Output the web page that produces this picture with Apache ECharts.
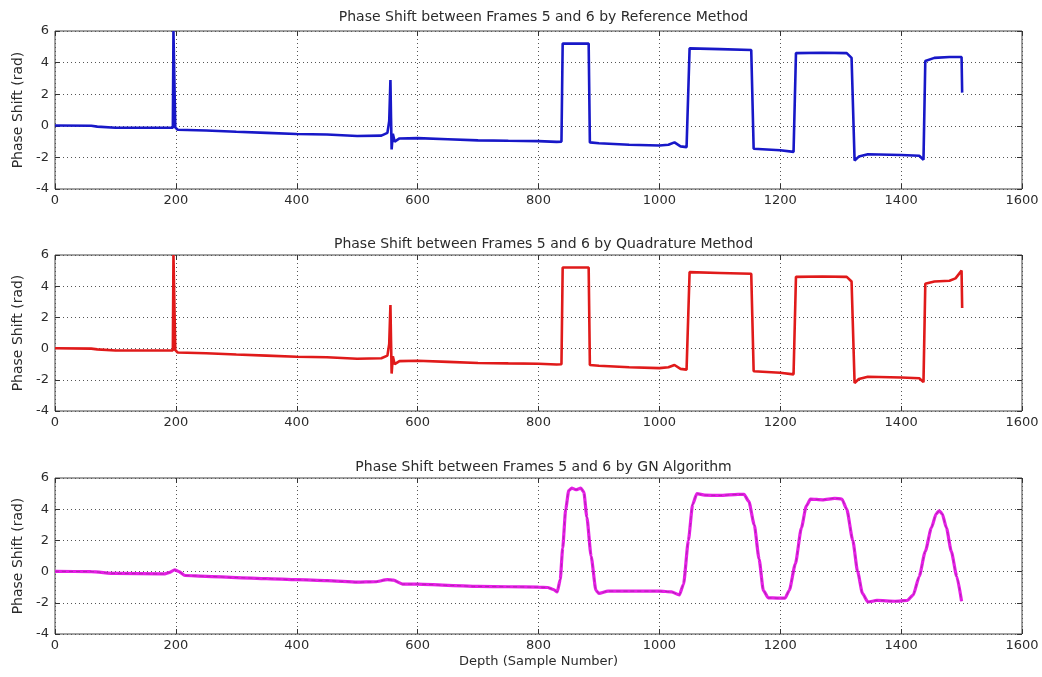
<!DOCTYPE html>
<html>
<head>
<meta charset="utf-8">
<script src="https://cdn.jsdelivr.net/npm/echarts@6/dist/echarts.min.js"></script>
<style>
  html, body { margin: 0; padding: 0; background: #fff; }
  #chart { width: 1042px; height: 677px; }
</style>
</head>
<body>
<div id="chart"></div>
<script>
// Phase shift (rad) between frames 5 and 6 along depth, three estimation methods.
const panelTitles = [
  'Phase Shift between Frames 5 and 6 by Reference Method',
  'Phase Shift between Frames 5 and 6 by Quadrature Method',
  'Phase Shift between Frames 5 and 6 by GN Algorithm'
];
const yAxisTitle = 'Phase Shift (rad)';
const xAxisTitle = 'Depth (Sample Number)';
const xTicks = [0, 200, 400, 600, 800, 1000, 1200, 1400, 1600];
const yTicks = [-4, -2, 0, 2, 4, 6];

// Reference method
const refDepth = [0, 60, 70, 100, 195, 196, 197, 198, 199, 203, 250, 300, 350, 400, 450, 500, 540, 550, 553, 555, 556, 557, 559, 562, 570, 600, 650, 700, 750, 800, 830, 838, 840, 883, 885, 900, 950, 1000, 1015, 1025, 1035, 1045, 1048, 1050, 1100, 1152, 1156, 1200, 1222, 1226, 1270, 1310, 1318, 1323, 1330, 1345, 1400, 1430, 1437, 1440, 1455, 1480, 1500, 1501];
const refPhase = [0.02, 0.0, -0.05, -0.12, -0.12, 6.0, 6.0, 6.0, -0.1, -0.25, -0.3, -0.38, -0.45, -0.52, -0.55, -0.65, -0.62, -0.45, 0.3, 2.9, 0.5, -1.5, -0.5, -1.0, -0.8, -0.78, -0.85, -0.92, -0.95, -0.97, -1.02, -1.0, 5.2, 5.2, -1.05, -1.1, -1.2, -1.25, -1.2, -1.05, -1.3, -1.35, -1.3, 4.9, 4.85, 4.8, -1.45, -1.55, -1.65, 4.6, 4.62, 4.6, 4.3, -2.2, -1.95, -1.8, -1.85, -1.9, -2.15, 4.1, 4.3, 4.35, 4.35, 2.1];

// Quadrature method
const quadDepth = [0, 60, 70, 100, 195, 196, 197, 198, 199, 203, 250, 300, 350, 400, 450, 500, 540, 550, 553, 555, 556, 557, 559, 562, 570, 600, 650, 700, 750, 800, 830, 838, 840, 883, 885, 900, 950, 1000, 1015, 1025, 1035, 1045, 1048, 1050, 1100, 1152, 1156, 1200, 1222, 1226, 1270, 1310, 1318, 1323, 1330, 1345, 1400, 1430, 1437, 1440, 1455, 1480, 1490, 1500, 1501];
const quadPhase = [0.02, 0.0, -0.05, -0.12, -0.12, 6.0, 6.0, 6.0, -0.1, -0.25, -0.3, -0.38, -0.45, -0.52, -0.55, -0.65, -0.62, -0.45, 0.3, 2.8, 0.5, -1.6, -0.5, -1.0, -0.8, -0.78, -0.85, -0.92, -0.95, -0.97, -1.02, -1.0, 5.2, 5.2, -1.05, -1.1, -1.2, -1.25, -1.2, -1.05, -1.3, -1.35, -1.3, 4.9, 4.85, 4.8, -1.45, -1.55, -1.65, 4.6, 4.62, 4.6, 4.3, -2.2, -1.95, -1.8, -1.85, -1.9, -2.15, 4.15, 4.3, 4.35, 4.5, 5.0, 2.6];

// GN algorithm
const gnDepth = [0, 60, 100, 180, 190, 198, 205, 215, 250, 300, 350, 400, 450, 500, 530, 550, 560, 575, 600, 650, 700, 750, 800, 815, 825, 831, 836, 840, 845, 850, 855, 862, 870, 875, 880, 887, 895, 900, 915, 950, 1000, 1020, 1033, 1040, 1048, 1055, 1062, 1075, 1100, 1130, 1140, 1148, 1157, 1165, 1172, 1180, 1195, 1208, 1215, 1225, 1235, 1243, 1250, 1270, 1290, 1302, 1310, 1320, 1328, 1336, 1345, 1360, 1390, 1410, 1420, 1430, 1440, 1450, 1458, 1463, 1468, 1475, 1483, 1492, 1500];
const gnPhase = [0.02, 0.0, -0.12, -0.15, -0.05, 0.12, 0.0, -0.25, -0.3, -0.38, -0.45, -0.52, -0.58, -0.68, -0.65, -0.52, -0.55, -0.8, -0.8, -0.88, -0.95, -0.97, -1.0, -1.02, -1.15, -1.3, -0.5, 1.5, 4.0, 5.2, 5.35, 5.25, 5.35, 5.1, 3.5, 1.0, -1.2, -1.4, -1.25, -1.25, -1.25, -1.3, -1.5, -0.8, 2.0, 4.3, 5.0, 4.9, 4.88, 4.95, 4.95, 4.5, 3.0, 0.8, -1.2, -1.68, -1.7, -1.7, -1.2, 0.5, 2.8, 4.2, 4.65, 4.6, 4.7, 4.65, 4.0, 2.0, 0.0, -1.4, -1.95, -1.85, -1.9, -1.85, -1.5, -0.3, 1.3, 2.8, 3.7, 3.9, 3.7, 2.8, 1.3, -0.3, -1.9];

const pairs = (xs, ys) => xs.map((x, i) => [x, ys[i]]);

const textColor = '#2b2b2b';
const fontFamily = 'DejaVu Sans, Arial, sans-serif';
const panels = [
  { top: 31, height: 158, titleTop: 5 },
  { top: 255, height: 156, titleTop: 232 },
  { top: 478, height: 156, titleTop: 455 }
];
const gridLeft = 55, gridRight = 20;
const centerX = gridLeft + (1042 - gridLeft - gridRight) / 2;

const grid = [], title = [], xAxis = [], yAxis = [];
const dotted = { color: '#555', width: 1, type: [1, 3] };
const tick = { inside: true, length: 5, lineStyle: { color: '#333' } };

panels.forEach((p, i) => {
  grid.push({ left: gridLeft, right: gridRight, top: p.top, height: p.height,
    show: true, borderColor: '#444', borderWidth: 1, backgroundColor: '#fff' });
  title.push({ text: panelTitles[i], left: centerX, top: p.titleTop, textAlign: 'center',
    textStyle: { fontSize: 14, fontWeight: 'normal', color: textColor, fontFamily } });
  // bottom / left axes carry the labels and the dotted grid
  xAxis.push({ type: 'value', gridIndex: i, min: xTicks[0], max: xTicks[xTicks.length - 1], interval: 200,
    axisLine: { show: false, onZero: false }, axisTick: tick,
    axisLabel: { color: textColor, fontSize: 13, fontFamily, margin: 5, formatter: v => String(v) },
    splitLine: { show: true, lineStyle: dotted },
    name: i === 2 ? xAxisTitle : '', nameLocation: 'middle', nameGap: 21,
    nameTextStyle: { color: textColor, fontSize: 13, fontFamily } });
  yAxis.push({ type: 'value', gridIndex: i, min: yTicks[0], max: yTicks[yTicks.length - 1], interval: 2,
    axisLine: { show: false, onZero: false }, axisTick: tick,
    axisLabel: { color: textColor, fontSize: 13, fontFamily, margin: 6, formatter: v => String(v) },
    splitLine: { show: true, lineStyle: dotted },
    name: yAxisTitle, nameLocation: 'middle', nameRotate: 90, nameGap: 30,
    nameTextStyle: { color: textColor, fontSize: 14, fontFamily } });
});
// top / right axes: tick marks only
panels.forEach((p, i) => {
  xAxis.push({ type: 'value', gridIndex: i, position: 'top', min: xTicks[0], max: xTicks[xTicks.length - 1], interval: 200,
    axisLine: { show: false, onZero: false }, axisTick: tick,
    axisLabel: { show: false }, splitLine: { show: false } });
  yAxis.push({ type: 'value', gridIndex: i, position: 'right', min: yTicks[0], max: yTicks[yTicks.length - 1], interval: 2,
    axisLine: { show: false, onZero: false }, axisTick: tick,
    axisLabel: { show: false }, splitLine: { show: false } });
});

const lineSeries = (data, idx, color, width, extra) => Object.assign({
  type: 'line', xAxisIndex: idx, yAxisIndex: idx, data, showSymbol: false, symbol: 'none',
  clip: true, animation: false, lineStyle: { color, width }
}, extra || {});

const series = [
  lineSeries(pairs(refDepth, refPhase), 0, '#1818c8', 2.6),
  lineSeries(pairs(quadDepth, quadPhase), 1, '#e01a1a', 2.6),
  lineSeries(pairs(gnDepth, gnPhase), 2, '#e61ee6', 3.2, { smooth: 0.2, smoothMonotone: 'x' }),
  lineSeries(pairs(gnDepth, gnPhase), 2, '#8a2a8a', 1, { smooth: 0.2, smoothMonotone: 'x',
    lineStyle: { color: '#8a2a8a', width: 1, type: [4, 3], opacity: 0.6 } })
];

const chart = echarts.init(document.getElementById('chart'), null, { renderer: 'canvas' });
chart.setOption({ backgroundColor: '#fff', animation: false, title, grid, xAxis, yAxis, series });
</script>
</body>
</html>
